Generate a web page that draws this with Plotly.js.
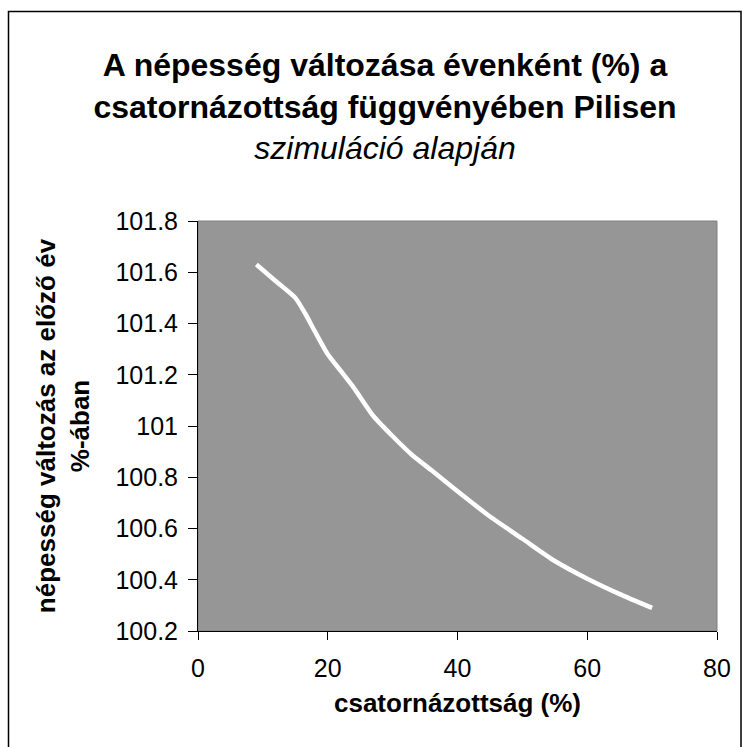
<!DOCTYPE html>
<html>
<head>
<meta charset="utf-8">
<script src="https://cdn.plot.ly/plotly-3.0.1.min.js"></script>
<style>
  html, body { margin: 0; padding: 0; background: #ffffff; }
  #chart { width: 742px; height: 747px; }
</style>
</head>
<body>
<div id="chart"></div>
<script>
// Data
const sewerage = [9, 12, 15, 16.5, 18, 20, 22, 24, 27, 30, 33, 36, 40, 45, 50, 55, 60, 65, 70];
const populationChange = [101.63, 101.565, 101.50, 101.44, 101.37, 101.28, 101.215, 101.15, 101.04, 100.96, 100.887, 100.827, 100.745, 100.647, 100.56, 100.473, 100.404, 100.344, 100.29];

const xTickVals = [0, 20, 40, 60, 80];
const xTickText = ['0', '20', '40', '60', '80'];
const yTickVals = [100.2, 100.4, 100.6, 100.8, 101, 101.2, 101.4, 101.6, 101.8];
const yTickText = ['100.2', '100.4', '100.6', '100.8', '101', '101.2', '101.4', '101.6', '101.8'];

const titleText = '<b>A népesség változása évenként (%) a<br>csatornázottság függvényében Pilisen</b><br><i>szimuláció alapján</i>';
const xTitle = '<b>csatornázottság (%)</b>';
const yTitle = '<b>népesség változás az előző év<br>%-ában</b>';

const FONT = 'Arial, "Liberation Sans", Helvetica, sans-serif';

const ml = 198, mr = 25, mt = 221, mb = 116, W = 742, H = 747;
const pw = W - ml - mr, ph = H - mt - mb;
function px2x(p) { return (p - ml) / pw; }
function px2y(p) { return (H - mb - p) / ph; }

const trace = {
  x: sewerage,
  y: populationChange,
  type: 'scatter',
  mode: 'lines',
  line: { color: '#ffffff', width: 4.5, shape: 'spline', smoothing: 0.6 },
  hoverinfo: 'x+y',
  showlegend: false
};

const layout = {
  width: W,
  height: H,
  margin: { l: ml, r: mr, t: mt, b: mb, pad: 0 },
  paper_bgcolor: '#ffffff',
  plot_bgcolor: '#969696',
  font: { family: FONT, color: '#000000', size: 25 },
  title: {
    text: titleText,
    font: { family: FONT, size: 32, color: '#000000' },
    xref: 'container', x: 385 / W, xanchor: 'center',
    yref: 'container', y: 1 - 76 / H, yanchor: 'top'
  },
  xaxis: {
    range: [0, 80],
    tickmode: 'array', tickvals: xTickVals, ticktext: xTickText,
    ticks: 'outside', ticklen: 8, tickwidth: 1, tickcolor: '#000000',
    ticklabelstandoff: 7,
    showline: true, linecolor: '#000000', linewidth: 1,
    showgrid: false, zeroline: false,
    tickfont: { family: FONT, size: 25, color: '#000000' },
    title: { text: xTitle, font: { family: FONT, size: 26, color: '#000000' }, standoff: 12 }
  },
  yaxis: {
    range: [100.2, 101.8],
    tickmode: 'array', tickvals: yTickVals, ticktext: yTickText,
    ticks: 'outside', ticklen: 9, tickwidth: 1, tickcolor: '#000000',
    ticklabelstandoff: 5,
    showline: true, linecolor: '#000000', linewidth: 1,
    showgrid: false, zeroline: false,
    tickfont: { family: FONT, size: 25, color: '#000000' },
    title: { text: yTitle, font: { family: FONT, size: 26, color: '#000000' }, standoff: 18 }
  },
  shapes: [
    { type: 'rect', xref: 'paper', yref: 'paper', x0: 0, x1: 1, y0: 0, y1: 1,
      line: { color: '#808080', width: 1 }, fillcolor: 'rgba(0,0,0,0)', layer: 'below' },
    { type: 'rect', xref: 'paper', yref: 'paper',
      x0: px2x(8.5), x1: px2x(741), y0: px2y(760), y1: px2y(11.5),
      line: { color: '#000000', width: 1.5 }, fillcolor: 'rgba(0,0,0,0)', layer: 'below' }
  ]
};

Plotly.newPlot('chart', [trace], layout, { displayModeBar: false, staticPlot: true });
</script>
</body>
</html>
